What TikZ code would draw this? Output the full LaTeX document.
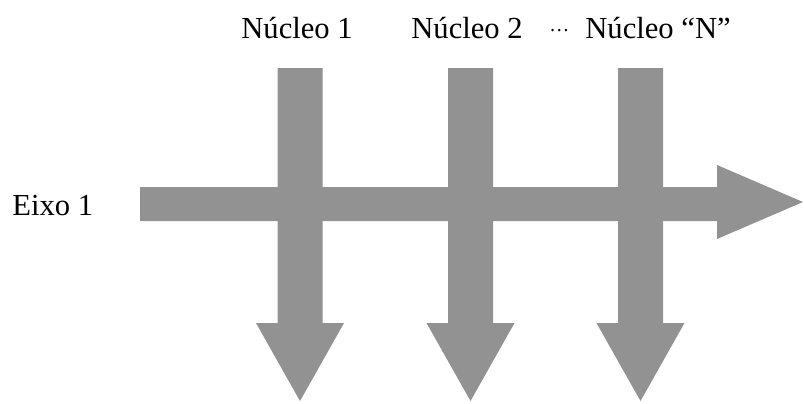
\documentclass[tikz,border=0pt]{standalone}
\usepackage{fontspec}
\setmainfont{Liberation Serif}
\begin{document}
\begin{tikzpicture}[x=0.5pt,y=-0.5pt,
  arrowfill/.style={fill={rgb,255:red,146;green,146;blue,146}, draw=none},
  label/.style={inner sep=0pt, anchor=base west, font=\fontsize{15.3}{18}\selectfont}]
\useasboundingbox (0,0) rectangle (804,403);

% horizontal axis arrow
\path[arrowfill] (140,187) -- (717,187) -- (717,165) -- (803,202)
  -- (717,239) -- (717,221) -- (140,221) -- cycle;

% three downward arrows, one per nucleus
\foreach \cx/\nm in {300/a1, 470.5/a2, 640.5/a3}{
  \path[arrowfill] (\cx-22.5,68) -- (\cx+22.5,68) -- (\cx+22.5,323)
    -- (\cx+44,323) -- (\cx,401) -- (\cx-44,323) -- (\cx-22.5,323) -- cycle;
  \coordinate (\nm) at (\cx,68);
}

% labels
\node[label] (n1) at (241,38) {Núcleo 1};
\node[label] (n2) at (411,38) {Núcleo 2};
\node[label] (dots) at (549,38) {\fontsize{10}{10}\selectfont\raisebox{3.5pt}{…}};
\node[label] (n3) at (585,38) {Núcleo “N”};
\node[label] (eixo) at (12,215) {Eixo 1};
\end{tikzpicture}
\end{document}
